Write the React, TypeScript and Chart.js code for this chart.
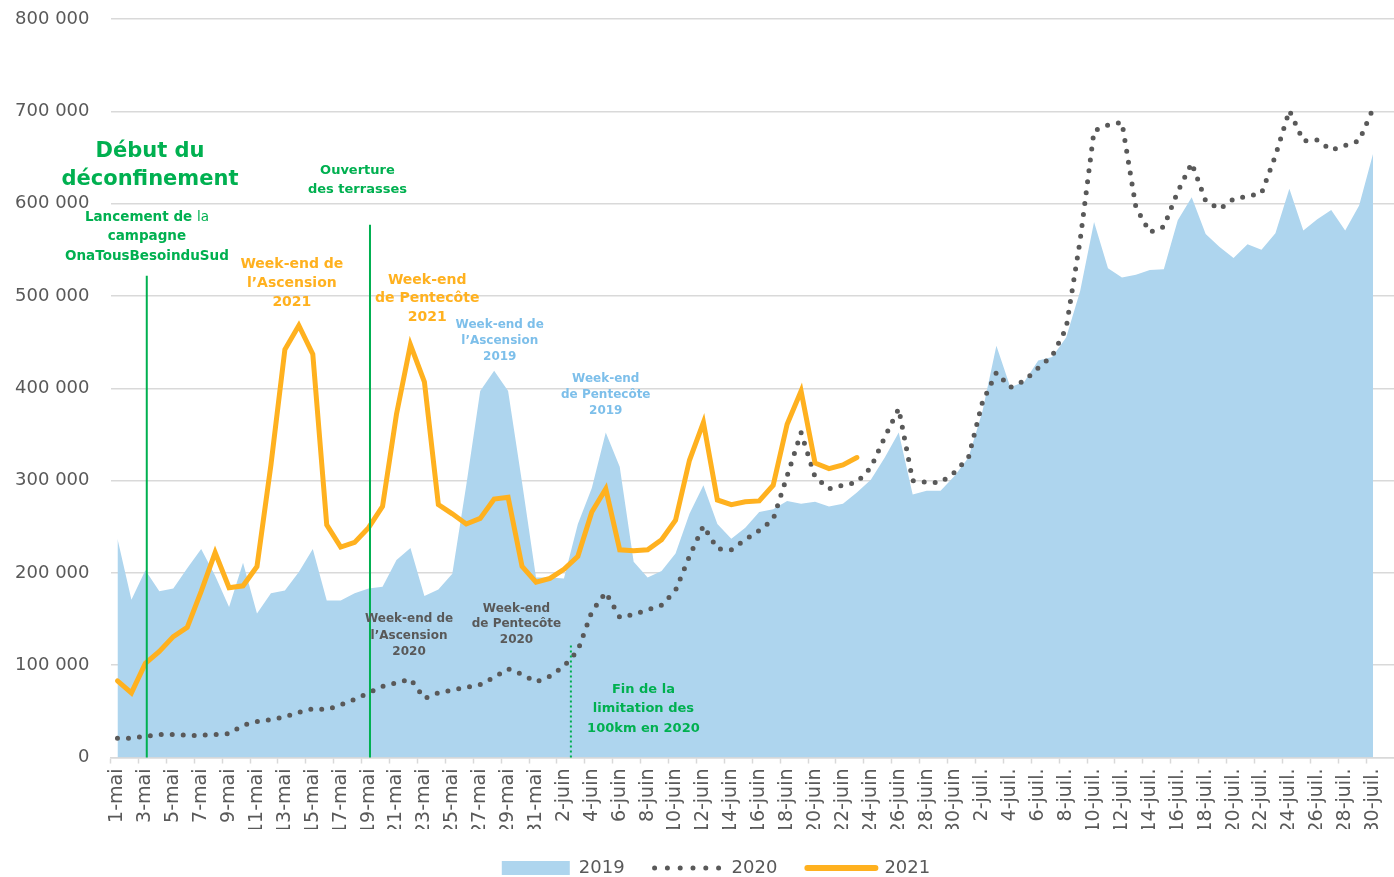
import React, { useEffect, useRef } from 'react';
import { Chart, registerables } from 'chart.js';

Chart.register(...registerables);

const FONT = "'DejaVu Sans', sans-serif";
const GREEN = '#00B050';
const ORANGE = '#FFB11F';
const AREA_BLUE = '#AED5EE';
const TEXT_BLUE = '#7DBFEA';
const GRAY = '#595959';
const GRID = '#D9D9D9';

// Categories: every day from 1 May to 31 July
const MONTHS: [string, number][] = [['mai', 31], ['juin', 30], ['juil.', 31]];
const DAYS: string[] = [];
for (const [m, n] of MONTHS) for (let d = 1; d <= n; d++) DAYS.push(`${d}-${m}`);

// Y tick values
const Y_TICKS = [0, 100000, 200000, 300000, 400000, 500000, 600000, 700000, 800000];

const VALUES_2019 = [
  237000, 171000, 203000, 180000, 183000, 205000, 226000, 197000, 163000, 211000,
  156000, 178000, 181000, 201000, 226000, 170000, 170000, 178000, 183000, 185000,
  214000, 227000, 175000, 182000, 199000, 295000, 397000, 419000, 397000, 298000,
  195000, 195000, 194000, 253000, 292000, 352000, 315000, 212000, 195000, 202000,
  221000, 264000, 295000, 253000, 237000, 249000, 266000, 269000, 278000, 275000,
  277000, 272000, 275000, 287000, 301000, 325000, 352000, 285000, 289000, 289000,
  305000, 325000, 375000, 446000, 401000, 407000, 430000, 434000, 455000, 505000,
  580000, 530000, 520000, 523000, 528000, 529000, 582000, 607000, 567000, 553000,
  541000, 556000, 550000, 568000, 616000, 571000, 583000, 593000, 571000, 598000,
  654000,
];

const VALUES_2020 = [
  21000, 21000, 23000, 25000, 25000, 24000, 24000, 25000, 26000, 35000,
  39000, 41000, 44000, 49000, 53000, 52000, 57000, 63000, 70000, 77000,
  81000, 85000, 64000, 70000, 73000, 76000, 79000, 87000, 96000, 90000,
  82000, 88000, 99000, 116000, 158000, 179000, 152000, 155000, 160000, 165000,
  181000, 218000, 251000, 226000, 225000, 236000, 246000, 258000, 305000, 352000,
  304000, 291000, 295000, 298000, 314000, 347000, 378000, 300000, 298000, 298000,
  309000, 325000, 385000, 417000, 401000, 408000, 422000, 435000, 465000, 560000,
  679000, 685000, 688000, 596000, 569000, 575000, 613000, 644000, 603000, 594000,
  605000, 608000, 611000, 652000, 701000, 668000, 669000, 658000, 663000, 668000,
  703000,
];

const VALUES_2021 = [
  83000, 70000, 102000, 115000, 131000, 141000, 180000, 222000, 184000, 186000,
  207000, 317000, 442000, 468000, 437000, 252000, 228000, 233000, 249000, 272000,
  372000, 447000, 407000, 274000, 264000, 253000, 259000, 280000, 282000, 207000,
  190000, 194000, 204000, 218000, 266000, 291000, 225000, 224000, 225000, 236000,
  257000, 322000, 363000, 279000, 274000, 277000, 278000, 295000, 361000, 397000,
  319000, 313000, 317000, 325000,
];

// Event markers: category position, top value
const MARKER_AT = [2.1, 18.1, 32.5];
const MARKER_TOP = [522000, 577000, 124000];
const MARKER_DASH: number[][] = [[], [], [2, 3]];

type Seg = [string, string];
type Note = { at: number; value: number; size: number; lh: number; color: string; lines: (string | Seg[])[] };

const NOTES: Note[] = [
  { at: 2.33, value: 656000, size: 21, lh: 28, color: GREEN, lines: ['Début du', 'déconfinement'] },
  { at: 17.2, value: 636000, size: 13, lh: 19, color: GREEN, lines: ['Ouverture', 'des terrasses'] },
  {
    at: 2.11, value: 585000, size: 13.5, lh: 19.5, color: GREEN,
    lines: [[['Lancement de ', 'bold'], ['la', 'normal']], 'campagne', 'OnaTousBesoinduSud'],
  },
  { at: 12.5, value: 534000, size: 14, lh: 19, color: ORANGE, lines: ['Week-end de', 'l\u2019Ascension', '2021'] },
  { at: 22.2, value: 517000, size: 14, lh: 18.5, color: ORANGE, lines: ['Week-end', 'de Pentecôte', '2021'] },
  { at: 27.4, value: 469000, size: 12, lh: 16, color: TEXT_BLUE, lines: ['Week-end de', 'l\u2019Ascension', '2019'] },
  { at: 35.0, value: 410000, size: 12, lh: 16, color: TEXT_BLUE, lines: ['Week-end', 'de Pentecôte', '2019'] },
  { at: 20.9, value: 150000, size: 12, lh: 16.5, color: GRAY, lines: ['Week-end de', 'l\u2019Ascension', '2020'] },
  { at: 28.6, value: 161500, size: 12, lh: 15.5, color: GRAY, lines: ['Week-end', 'de Pentecôte', '2020'] },
  { at: 37.7, value: 73700, size: 13, lh: 19.5, color: GREEN, lines: ['Fin de la', 'limitation des', '100km en 2020'] },
];

const formatThousands = (v: number) => String(v).replace(/\B(?=(\d{3})+(?!\d))/g, ' ');

const notesPlugin = {
  id: 'notes',
  afterLayout(chart: any) {
    const l = chart.legend;
    if (l) {
      l.left += 12;
      l.right += 12;
    }
  },
  afterDatasetsDraw(chart: any) {
    const { ctx } = chart;
    const x = chart.scales.x;
    const y = chart.scales.y;
    ctx.save();
    MARKER_AT.forEach((at, i) => {
      const px = x.getPixelForValue(at);
      ctx.beginPath();
      ctx.strokeStyle = GREEN;
      ctx.lineWidth = 2;
      ctx.setLineDash(MARKER_DASH[i]);
      ctx.moveTo(px, y.getPixelForValue(0));
      ctx.lineTo(px, y.getPixelForValue(MARKER_TOP[i]));
      ctx.stroke();
    });
    ctx.setLineDash([]);
    ctx.textBaseline = 'middle';
    ctx.textAlign = 'left';
    for (const n of NOTES) {
      const cx = x.getPixelForValue(n.at);
      const cy = y.getPixelForValue(n.value);
      n.lines.forEach((line, li) => {
        const segs: Seg[] = typeof line === 'string' ? [[line, 'bold']] : line;
        let total = 0;
        const widths = segs.map(([t, w]) => {
          ctx.font = `${w} ${n.size}px ${FONT}`;
          const m = ctx.measureText(t).width;
          total += m;
          return m;
        });
        let sx = cx - total / 2;
        segs.forEach(([t, w], si) => {
          ctx.font = `${w} ${n.size}px ${FONT}`;
          ctx.fillStyle = n.color;
          ctx.fillText(t, sx, cy + li * n.lh);
          sx += widths[si];
        });
      });
    }
    ctx.restore();
  },
};

export default function App() {
  const ref = useRef<HTMLCanvasElement>(null);
  useEffect(() => {
    if (!ref.current) return;
    const chart = new Chart(ref.current, {
      type: 'line',
      data: {
        labels: DAYS,
        datasets: [
          {
            label: '2019',
            data: VALUES_2019,
            backgroundColor: AREA_BLUE,
            borderColor: AREA_BLUE,
            borderWidth: 0,
            pointRadius: 0,
            fill: 'origin',
            tension: 0,
            order: 3,
          },
          {
            label: '2020',
            data: VALUES_2020,
            borderColor: GRAY,
            borderWidth: 5,
            borderDash: [0, 11],
            borderCapStyle: 'round',
            pointRadius: 0,
            fill: false,
            tension: 0,
            order: 2,
          },
          {
            label: '2021',
            data: VALUES_2021,
            borderColor: ORANGE,
            borderWidth: 5,
            borderCapStyle: 'round',
            borderJoinStyle: 'miter',
            pointRadius: 0,
            fill: false,
            tension: 0,
            order: 1,
          },
        ],
      },
      options: {
        animation: false,
        responsive: true,
        maintainAspectRatio: false,
        layout: { padding: { left: 14, right: 0, top: 19, bottom: -10 } },
        plugins: {
          tooltip: { enabled: false },
          legend: {
            position: 'bottom',
            labels: {
              usePointStyle: true,
              pointStyleWidth: 68,
              boxWidth: 68,
              boxHeight: 14,
              padding: 30,
              color: GRAY,
              font: { family: FONT, size: 18 },
              generateLabels: () => [
                {
                  text: '2019', datasetIndex: 0, fillStyle: AREA_BLUE, strokeStyle: AREA_BLUE,
                  lineWidth: 0, pointStyle: 'rect', fontColor: GRAY, hidden: false,
                },
                {
                  text: '2020', datasetIndex: 1, fillStyle: 'rgba(0,0,0,0)', strokeStyle: GRAY,
                  lineWidth: 5, lineDash: [0, 12.8], lineCap: 'round', pointStyle: 'line', fontColor: GRAY, hidden: false,
                },
                {
                  text: '2021', datasetIndex: 2, fillStyle: 'rgba(0,0,0,0)', strokeStyle: ORANGE,
                  lineWidth: 6, lineCap: 'round', pointStyle: 'line', fontColor: GRAY, hidden: false,
                },
              ],
            },
          },
        },
        scales: {
          x: {
            offset: true,
            afterFit: (s: any) => {
              s.paddingLeft = 0;
              s.paddingRight = 0;
              s.height = s.height - 11;
            },
            grid: {
              offset: true,
              drawOnChartArea: false,
              drawTicks: true,
              tickLength: 6,
              tickWidth: 1.5,
              tickColor: (c: any) => (c.index % 2 === 0 ? GRID : 'rgba(0,0,0,0)'),
            },
            border: { display: true, color: GRID, width: 1.5 },
            ticks: {
              autoSkip: false,
              maxRotation: 90,
              minRotation: 90,
              padding: 5,
              color: GRAY,
              font: { family: FONT, size: 19 },
              callback: (_v: any, i: number) => (i % 2 === 0 ? DAYS[i] : ''),
            },
          },
          y: {
            min: 0,
            max: 800000,
            afterBuildTicks: (s: any) => {
              s.ticks = Y_TICKS.map((v) => ({ value: v }));
            },
            afterFit: (s: any) => {
              s.width = 96.5;
              s.paddingTop = 0;
              s.paddingBottom = 0;
            },
            grid: { color: GRID, lineWidth: 1.5, drawTicks: false },
            border: { display: false },
            ticks: {
              padding: 21,
              color: GRAY,
              font: { family: FONT, size: 18 },
              callback: (v: any) => formatThousands(Number(v)),
            },
          },
        },
      },
      plugins: [notesPlugin],
    } as any);
    return () => chart.destroy();
  }, []);
  return (
    <div style={{ position: 'absolute', left: 0, top: 0, width: 1394, height: 877, background: '#fff' }}>
      <canvas ref={ref} />
    </div>
  );
}
